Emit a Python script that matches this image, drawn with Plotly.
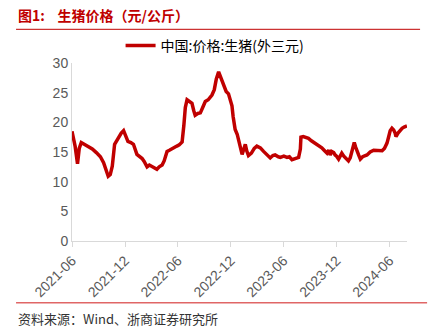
import plotly.graph_objects as go

# Weekly-ish spot price of live hogs (outer three-way crossbred), yuan/kg
dates = [
    "2021-06-01", "2021-06-12", "2021-06-20", "2021-06-26", "2021-07-03", "2021-07-13",
    "2021-07-27", "2021-08-10", "2021-08-24", "2021-09-07", "2021-09-18", "2021-09-27",
    "2021-10-04", "2021-10-11", "2021-10-18", "2021-10-26", "2021-11-01", "2021-11-09",
    "2021-11-18", "2021-11-26", "2021-12-04", "2021-12-11", "2021-12-21", "2021-12-30",
    "2022-01-11", "2022-01-19", "2022-01-29", "2022-02-05", "2022-02-15", "2022-02-23",
    "2022-03-04", "2022-03-12", "2022-03-21", "2022-03-29", "2022-04-08", "2022-04-15",
    "2022-04-25", "2022-05-03", "2022-05-12", "2022-05-20", "2022-05-29", "2022-06-06",
    "2022-06-16", "2022-06-22", "2022-06-27", "2022-07-03", "2022-07-11", "2022-07-20",
    "2022-07-26", "2022-07-31", "2022-08-09", "2022-08-18", "2022-08-26", "2022-09-04",
    "2022-09-14", "2022-09-27", "2022-10-05", "2022-10-12", "2022-10-20", "2022-10-27",
    "2022-11-06", "2022-11-15", "2022-11-23", "2022-11-29", "2022-12-05", "2022-12-09",
    "2022-12-16", "2022-12-23", "2022-12-28", "2023-01-03", "2023-01-09", "2023-01-15",
    "2023-01-20", "2023-01-25", "2023-01-31", "2023-02-10", "2023-02-20", "2023-03-01",
    "2023-03-13", "2023-03-24", "2023-04-04", "2023-04-16", "2023-04-25", "2023-05-03",
    "2023-05-14", "2023-05-21", "2023-06-02", "2023-06-13", "2023-06-21", "2023-06-30",
    "2023-07-11", "2023-07-23", "2023-07-29", "2023-07-31", "2023-08-08", "2023-08-17",
    "2023-08-26", "2023-09-05", "2023-09-18", "2023-09-29", "2023-10-11", "2023-10-19",
    "2023-10-29", "2023-11-04", "2023-11-09", "2023-11-14", "2023-11-21", "2023-11-26",
    "2023-12-01", "2023-12-08", "2023-12-14", "2023-12-19", "2023-12-26", "2024-01-02",
    "2024-01-11", "2024-01-17", "2024-01-24", "2024-01-31", "2024-02-05", "2024-02-10",
    "2024-02-15", "2024-02-21", "2024-02-29", "2024-03-15", "2024-03-26", "2024-04-07",
    "2024-04-19", "2024-05-06", "2024-05-14", "2024-05-23", "2024-05-29", "2024-06-03",
    "2024-06-09", "2024-06-15", "2024-06-20", "2024-06-23", "2024-06-30", "2024-07-08",
    "2024-07-14", "2024-07-21", "2024-07-31",
]
prices = [
    18.5, 15.9, 13.0, 15.6, 16.6, 16.3,
    16.0, 15.5, 14.9, 14.2, 13.2, 11.8,
    10.9, 11.2, 12.6, 16.3, 16.8, 17.5,
    18.2, 18.6, 17.8, 16.8, 16.6, 16.3,
    14.6, 14.3, 13.9, 13.4, 12.5, 12.8,
    12.5, 12.3, 12.1, 12.5, 12.8, 13.5,
    15.1, 15.3, 15.6, 15.8, 16.0, 16.2,
    16.7, 19.5, 22.5, 23.8, 23.5, 23.2,
    22.0, 21.2, 21.5, 21.6, 22.5, 23.5,
    23.8, 24.6, 25.5, 27.3, 28.5, 27.5,
    26.3, 25.2, 24.8, 23.8, 22.8, 21.0,
    18.8, 18.0, 17.0, 15.5, 14.6, 15.5,
    16.3, 15.2, 14.4, 14.8, 15.6, 16.0,
    15.7, 15.1, 14.6, 14.0, 14.4, 14.5,
    14.2, 14.1, 14.3, 14.1, 14.2, 13.7,
    13.9, 14.1, 15.5, 17.5, 17.6, 17.4,
    17.3, 16.9, 16.5, 16.1, 15.7, 15.3,
    14.8, 15.3, 14.5, 15.1, 14.9, 14.5,
    14.3, 13.8, 14.5, 14.8, 14.3, 14.0,
    13.5, 14.0, 15.4, 16.6, 15.8, 15.3,
    14.5, 13.8, 14.2, 14.5, 15.0, 15.3,
    15.2, 15.2, 15.6, 16.5, 17.6, 18.6,
    19.0, 18.7, 18.2, 17.6, 18.2, 18.7,
    19.0, 19.2, 19.4,
]
series_name = "中国:价格:生猪(外三元)"
title_text = "图1:    生猪价格（元/公斤）"
source_text = "资料来源：Wind、浙商证券研究所"

RED = "#c00000"
AXIS_GREY = "#d9d9d9"
TICK_GREY = "#595959"
SANS = "Liberation Sans, Arial, sans-serif"
CJK = "Noto Sans CJK SC, sans-serif"

fig = go.Figure()
fig.add_trace(go.Scatter(
    x=dates, y=prices, mode="lines", name=series_name,
    line=dict(color=RED, width=3.5),
))

fig.update_layout(
    width=435, height=331,
    margin=dict(l=72, r=28, t=63, b=90),
    paper_bgcolor="white", plot_bgcolor="white",
    showlegend=True,
    legend=dict(
        orientation="h", x=0.145, y=1.096, xanchor="left", yanchor="middle",
        font=dict(family=CJK, size=14, color="#000000"),
        bgcolor="rgba(0,0,0,0)",
    ),
    xaxis=dict(
        type="date", range=["2021-06-01", "2024-07-31"],
        tick0="2021-06-01", dtick="M6", tickformat="%Y-%m", tickangle=-45,
        showgrid=False, showline=True, linecolor=AXIS_GREY, linewidth=1,
        ticks="outside", ticklen=5, tickcolor=AXIS_GREY,
        tickfont=dict(family=SANS, size=14, color=TICK_GREY),
        zeroline=False,
    ),
    yaxis=dict(
        range=[0, 30], dtick=5, showgrid=False, showline=True,
        linecolor=AXIS_GREY, linewidth=1, ticks="", zeroline=False,
        tickfont=dict(family=SANS, size=14, color=TICK_GREY),
    ),
    annotations=[
        dict(text="<b>" + title_text + "</b>", xref="paper", yref="paper",
             x=-0.167, y=(241 - 15) / 178, xanchor="left", yanchor="middle",
             showarrow=False, font=dict(family=CJK, size=14, color=RED)),
        dict(text=source_text, xref="paper", yref="paper",
             x=-0.167, y=(241 - 318) / 178, xanchor="left", yanchor="middle",
             showarrow=False, font=dict(family=CJK, size=13, color="#333333")),
    ],
    shapes=[
        dict(type="line", xref="paper", yref="paper",
             x0=-0.167, x1=1.039, y0=(241 - 29.3) / 178, y1=(241 - 29.3) / 178,
             line=dict(color=RED, width=1)),
        dict(type="line", xref="paper", yref="paper",
             x0=-0.167, x1=1.06, y0=(241 - 302.7) / 178, y1=(241 - 302.7) / 178,
             line=dict(color="#e06666", width=1.5)),
    ],
)

fig.write_html("out.html")
